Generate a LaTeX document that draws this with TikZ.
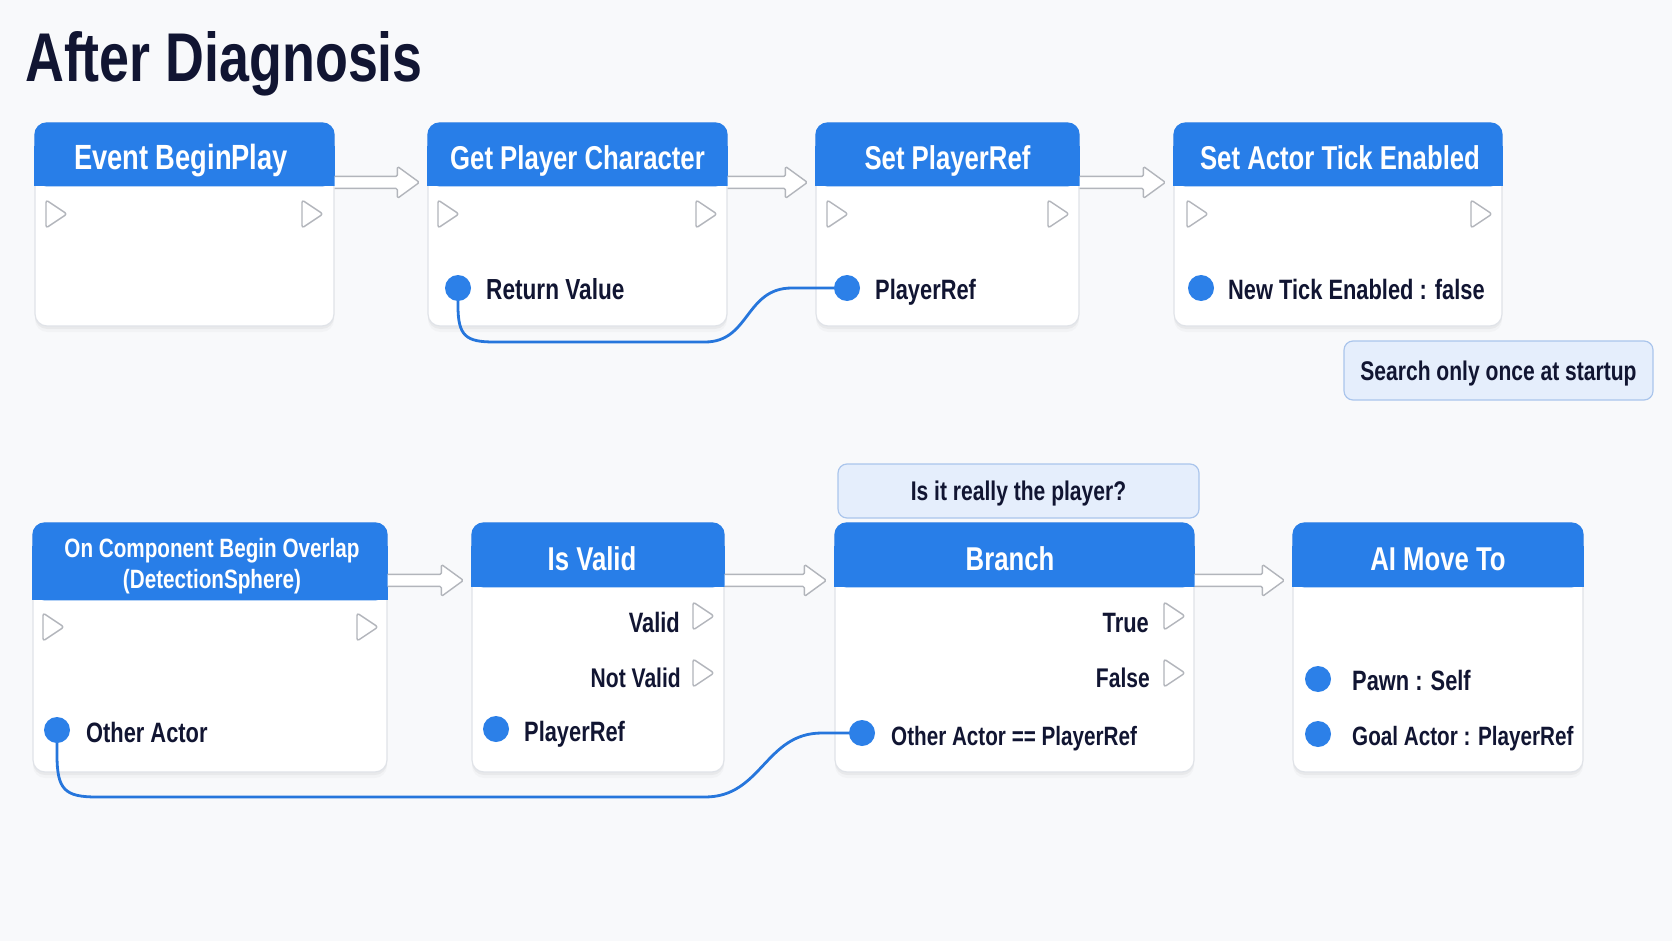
\documentclass[tikz,border=0pt]{standalone}
\usepackage{fontspec}
\setmainfont{Liberation Sans}[FakeStretch=0.78]
\usetikzlibrary{calc,shadows}
\pgfdeclarelayer{bg}\pgfdeclarelayer{wires}\pgfdeclarelayer{fg}
\pgfsetlayers{bg,main,wires,fg}
\definecolor{bgc}{RGB}{248,249,251}
\definecolor{hblue}{RGB}{40,126,232}
\definecolor{navy}{RGB}{17,21,50}
\definecolor{pinblue}{RGB}{44,128,232}
\definecolor{wireblue}{RGB}{38,118,220}
\definecolor{boxline}{RGB}{224,227,232}
\definecolor{execgrey}{RGB}{178,181,187}
\definecolor{cmtfill}{RGB}{229,238,252}
\definecolor{cmtline}{RGB}{170,197,236}
\newcommand\cardhead[2]{%
  \fill[hblue, rounded corners=12pt] (#1.north west) rectangle ([yshift=-#2pt]#1.north east);
  \fill[hblue] ([yshift=-24pt]#1.north west) rectangle ([yshift=-#2pt]#1.north east);}
\newcommand\execpin[2]{\draw[execpinstyle] (#1,#2-14) -- (#1+21,#2) -- (#1,#2+14) -- cycle;}
\newcommand\execlink[3]{%
  \fill[white] let \p1=([yshift=-#3pt]#1.north east), \p2=(#2.north west) in
    (\x1,\y1+6pt) -- (\x2-30pt,\y1+6pt) -- (\x2-30pt,\y1+16pt) -- (\x2-8pt,\y1) -- (\x2-30pt,\y1-16pt) -- (\x2-30pt,\y1-6pt) -- (\x1,\y1-6pt) -- cycle;
  \draw[execline] let \p1=([yshift=-#3pt]#1.north east), \p2=(#2.north west) in
    (\x1,\y1+6pt) -- (\x2-30pt,\y1+6pt) -- (\x2-30pt,\y1+16pt) -- (\x2-8pt,\y1) -- (\x2-30pt,\y1-16pt) -- (\x2-30pt,\y1-6pt) -- (\x1,\y1-6pt);}
\begin{document}
\begin{tikzpicture}[x=1pt,y=-1pt,
  card/.style={draw=boxline, line width=1.2pt, fill=white, rounded corners=12pt, inner sep=0pt,
    drop shadow={shadow xshift=0pt, shadow yshift=-6pt, opacity=0.025, fill=black},
    drop shadow={shadow xshift=0pt, shadow yshift=-3pt, opacity=0.04, fill=black}},
  htext/.style={font=\fontsize{33}{40}\selectfont\bfseries, text=white, inner sep=0pt, anchor=base},
  lbl/.style={font=\fontsize{28}{34}\selectfont\bfseries, text=navy, inner sep=0pt, anchor=base west},
  rlbl/.style={lbl, anchor=base east},
  pinstyle/.style={circle, fill=pinblue, minimum size=26pt, inner sep=0pt},
  execpinstyle/.style={draw=execgrey, fill=white, line width=1.4pt, rounded corners=2.5pt, line join=round},
  execline/.style={draw=execgrey, line width=1.4pt, line join=round, rounded corners=1.5pt},
  wire/.style={draw=wireblue, line width=2.8pt, line cap=round},
  cmt/.style={draw=cmtline, line width=1.2pt, fill=cmtfill, rounded corners=9pt, inner sep=0pt,
    text depth=0pt, font=\fontsize{27}{32}\selectfont\bfseries, text=navy}]
\useasboundingbox (0,0) rectangle (1672,941);
\begin{pgfonlayer}{bg}
  \fill[bgc] (0,0) rectangle (1672,941);
\end{pgfonlayer}

% title
\node[font=\fontsize{69}{80}\selectfont\bfseries, text=navy, inner sep=0pt, anchor=base west] (title) at (25,82) {After Diagnosis};

% top row cards
\node[card, minimum width=299pt, minimum height=203pt] (b1) at (184.5,224.5) {};
\node[card, minimum width=299pt, minimum height=203pt] (b2) at (577.5,224.5) {};
\node[card, minimum width=263pt, minimum height=203pt] (b3) at (947.5,224.5) {};
\node[card, minimum width=328pt, minimum height=203pt] (b4) at (1338,224.5) {};
\cardhead{b1}{64}\cardhead{b2}{64}\cardhead{b3}{64}\cardhead{b4}{64}
\node[htext, font=\fontsize{35}{40}\selectfont\bfseries] (b1h) at (181,170) {Event BeginPlay};
\node[htext] (b2h) at (577.5,170) {Get Player Character};
\node[htext] (b3h) at (947.5,170) {Set PlayerRef};
\node[htext] (b4h) at (1340,170) {Set Actor Tick Enabled};

% bottom row cards
\node[card, minimum width=354pt, minimum height=249pt] (b5) at (210,647.5) {};
\node[card, minimum width=252pt, minimum height=249pt] (b6) at (598,647.5) {};
\node[card, minimum width=359pt, minimum height=249pt] (b7) at (1014.5,647.5) {};
\node[card, minimum width=290pt, minimum height=249pt] (b8) at (1438,647.5) {};
\cardhead{b5}{78}\cardhead{b6}{65}\cardhead{b7}{65}\cardhead{b8}{65}
\node[htext, font=\fontsize{26.5}{31}\selectfont\bfseries, align=center, anchor=center] (b5h) at (212,566) {On Component Begin Overlap\\(DetectionSphere)};
\node[htext] (b6h) at (592,570) {Is Valid};
\node[htext] (b7h) at (1010,570) {Branch};
\node[htext] (b8h) at (1438,570) {AI Move To};

% comments
\node[cmt, minimum width=309pt, minimum height=59pt] (c1) at (1498.5,370.5) {Search only once at startup};
\node[cmt, minimum width=361pt, minimum height=54pt] (c2) at (1018.5,491) {Is it really the player?};

% exec pins
\execpin{46}{214}\execpin{302}{214}
\execpin{438}{214}\execpin{696}{214}
\execpin{827}{214}\execpin{1048}{214}
\execpin{1187}{214}\execpin{1471}{214}
\execpin{43}{627}\execpin{357}{627}
\execpin{693}{616}\execpin{693}{673}
\execpin{1164}{616}\execpin{1164}{673}

% exec links
\execlink{b1}{b2}{60}
\execlink{b2}{b3}{60}
\execlink{b3}{b4}{60}
\execlink{b5}{b6}{58}
\execlink{b6}{b7}{58}
\execlink{b7}{b8}{58}

% labels
\node[lbl, font=\fontsize{29}{34}\selectfont\bfseries] (l2) at (486,299) {Return Value};
\node[lbl] (l3) at (875,299) {PlayerRef};
\node[lbl] (l4) at (1228,299) {New Tick Enabled : false};
\node[lbl] (l5) at (86,742) {Other Actor};
\node[rlbl] (l6a) at (680,632) {Valid};
\node[rlbl, font=\fontsize{27}{34}\selectfont\bfseries] (l6b) at (681,687) {Not Valid};
\node[lbl] (l6c) at (524,741) {PlayerRef};
\node[rlbl] (l7a) at (1149,632) {True};
\node[rlbl, font=\fontsize{27}{34}\selectfont\bfseries] (l7b) at (1150,687) {False};
\node[lbl, font=\fontsize{26.5}{34}\selectfont\bfseries] (l7c) at (891,745) {Other Actor == PlayerRef};
\node[lbl] (l8a) at (1352,690) {Pawn : Self};
\node[lbl, font=\fontsize{26.5}{34}\selectfont\bfseries] (l8b) at (1352,745) {Goal Actor : PlayerRef};

% data pins
\begin{pgfonlayer}{fg}
\node[pinstyle] (p2) at (458,288) {};
\node[pinstyle] (p3) at (847,288) {};
\node[pinstyle] (p4) at (1201,288) {};
\node[pinstyle] (p5) at (57,730) {};
\node[pinstyle] (p6) at (496,729) {};
\node[pinstyle] (p7) at (862,733) {};
\node[pinstyle] (p8a) at (1318,679) {};
\node[pinstyle] (p8b) at (1318,734) {};
\end{pgfonlayer}

% wires
\begin{pgfonlayer}{wires}
\draw[wire] (p2.center) -- (458,306) .. controls (458,336) and (466,342) .. (494,342) -- (705,342)
  .. controls (750,342) and (745,288) .. (792,288) -- (p3.center);
\draw[wire] (p5.center) -- (57,755) .. controls (57,790) and (65,797) .. (97,797) -- (705,797)
  .. controls (762,797) and (765,733) .. (822,733) -- (p7.center);
\end{pgfonlayer}
\end{tikzpicture}
\end{document}
